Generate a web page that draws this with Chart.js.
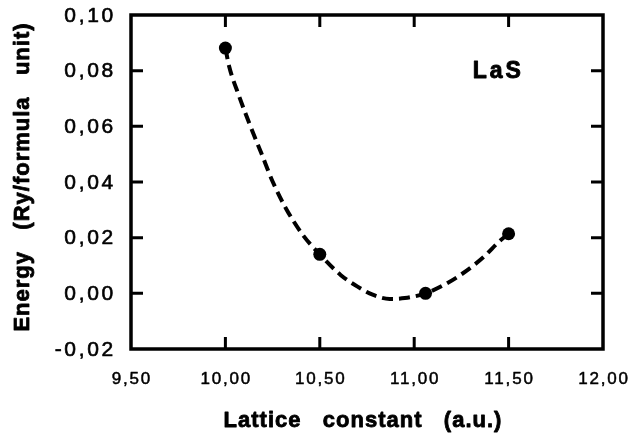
<!DOCTYPE html>
<html>
<head>
<meta charset="utf-8">
<title>LaS total energy</title>
<script src="https://cdn.jsdelivr.net/npm/chart.js@4.4.0/dist/chart.umd.min.js"></script>
<style>
    html, body { margin: 0; padding: 0; background: #fff; }
    #chartContainer { width: 631px; height: 434px; }
</style>
</head>
<body>
<div id="chartContainer"><canvas id="energyChart" width="631" height="434"></canvas></div>
<script>
// calculated points (Ry/formula unit)
const latticeConst = [10.00, 10.50, 11.06, 11.50];
const energy = [0.0881, 0.0140, 0.0000, 0.0214];

// dashed fit curve
const fitLattice = [10.00, 10.02, 10.07, 10.13, 10.19, 10.25, 10.32, 10.41, 10.50, 10.61, 10.70, 10.78, 10.87, 10.95, 11.06, 11.16, 11.26, 11.37, 11.45, 11.50];
const fitEnergy = [0.0881, 0.0815, 0.0713, 0.0605, 0.0504, 0.0402, 0.0306, 0.0210, 0.0140, 0.0066, 0.0024, -0.0005, -0.0020, -0.0017, 0.0000, 0.0031, 0.0073, 0.0132, 0.0186, 0.0214];

const xTicks = [9.5, 10.0, 10.5, 11.0, 11.5, 12.0];
const xTickLabels = ["9,50", "10,00", "10,50", "11,00", "11,50", "12,00"];
const yTicks = [-0.02, 0.00, 0.02, 0.04, 0.06, 0.08, 0.10];
const yTickLabels = ["-0,02", "0,00", "0,02", "0,04", "0,06", "0,08", "0,10"];

const xTitle = "Lattice   constant   (a.u.)";
const yTitle = "Energy   (Ry/formula   unit)";
const compound = "LaS";

document.addEventListener("DOMContentLoaded", function () {
    const canvas = document.getElementById("energyChart");

    // fill + thin stroke, the scanned original has heavy glyphs
    function inkText(ctx, text, x, y, weight) {
        ctx.lineWidth = weight;
        ctx.strokeText(text, x, y);
        ctx.fillText(text, x, y);
    }

    // box, inward ticks and all the text (needs letter spacing, so drawn by hand)
    const framePlugin = {
        id: "frame",
        afterDraw: function (chart) {
            const ctx = chart.ctx;
            const a = chart.chartArea;
            const x = chart.scales.x;
            const y = chart.scales.y;

            ctx.save();
            ctx.strokeStyle = "#000";
            ctx.fillStyle = "#000";
            ctx.lineWidth = 3.5;
            ctx.strokeRect(a.left, a.top, a.right - a.left, a.bottom - a.top);

            ctx.lineWidth = 3;
            ctx.beginPath();
            xTicks.forEach(function (v) {
                const px = x.getPixelForValue(v);
                if (px <= a.left + 1 || px >= a.right - 1) return;
                ctx.moveTo(px, a.bottom); ctx.lineTo(px, a.bottom - 12);
                ctx.moveTo(px, a.top); ctx.lineTo(px, a.top + 12);
            });
            yTicks.forEach(function (v) {
                const py = y.getPixelForValue(v);
                if (py <= a.top + 1 || py >= a.bottom - 1) return;
                ctx.moveTo(a.left, py); ctx.lineTo(a.left + 12, py);
                ctx.moveTo(a.right, py); ctx.lineTo(a.right - 12, py);
            });
            ctx.stroke();

            // tick labels
            ctx.lineJoin = "round";
            ctx.font = '17px "Liberation Sans"';
            ctx.letterSpacing = "1.8px";
            ctx.textAlign = "center";
            ctx.textBaseline = "alphabetic";
            xTicks.forEach(function (v, i) {
                inkText(ctx, xTickLabels[i], x.getPixelForValue(v) + 0.9, a.bottom + 35, 0.5);
            });

            ctx.font = '21px "Liberation Sans"';
            ctx.letterSpacing = "2.7px";
            ctx.textAlign = "right";
            ctx.textBaseline = "middle";
            yTicks.forEach(function (v, i) {
                inkText(ctx, yTickLabels[i], a.left - 15, y.getPixelForValue(v) + 1, 0.6);
            });

            // axis titles
            ctx.font = 'bold 22px "Liberation Sans"';
            ctx.letterSpacing = "1px";
            ctx.textAlign = "center";
            ctx.textBaseline = "alphabetic";
            inkText(ctx, xTitle, (a.left + a.right) / 2 - 4, a.bottom + 78, 0.8);

            ctx.save();
            ctx.translate(29, (a.top + a.bottom) / 2 - 5);
            ctx.rotate(-Math.PI / 2);
            inkText(ctx, yTitle, 0, 0, 0.8);
            ctx.restore();

            // compound name
            ctx.font = 'bold 23px "Liberation Sans"';
            ctx.letterSpacing = "3px";
            ctx.textAlign = "left";
            inkText(ctx, compound, x.getPixelForValue(11.31), y.getPixelForValue(0.0772), 0.9);

            ctx.restore();
        }
    };

    const points = latticeConst.map((v, i) => ({ x: v, y: energy[i] }));
    const fit = fitLattice.map((v, i) => ({ x: v, y: fitEnergy[i] }));

    new Chart(canvas.getContext("2d"), {
        type: "scatter",
        data: {
            datasets: [
                {
                    label: "calculated",
                    data: points,
                    pointRadius: 6.5,
                    pointBackgroundColor: "#000",
                    pointBorderWidth: 0,
                    showLine: false
                },
                {
                    label: "fit",
                    data: fit,
                    showLine: true,
                    pointRadius: 0,
                    borderColor: "#000",
                    borderWidth: 4,
                    borderDash: [11, 6],
                    cubicInterpolationMode: "monotone",
                    fill: false
                }
            ]
        },
        options: {
            responsive: false,
            animation: false,
            events: [],
            layout: { padding: { top: 15, right: 28, left: 0, bottom: 0 } },
            plugins: {
                legend: { display: false },
                tooltip: { enabled: false }
            },
            scales: {
                x: {
                    type: "linear",
                    min: 9.5,
                    max: 12,
                    grid: { display: false },
                    border: { display: false },
                    ticks: { display: false },
                    afterFit: function (scale) { scale.height = 85; }
                },
                y: {
                    type: "linear",
                    min: -0.02,
                    max: 0.10,
                    grid: { display: false },
                    border: { display: false },
                    ticks: { display: false },
                    afterFit: function (scale) { scale.width = 131; }
                }
            }
        },
        plugins: [framePlugin]
    });
});
</script>
</body>
</html>
